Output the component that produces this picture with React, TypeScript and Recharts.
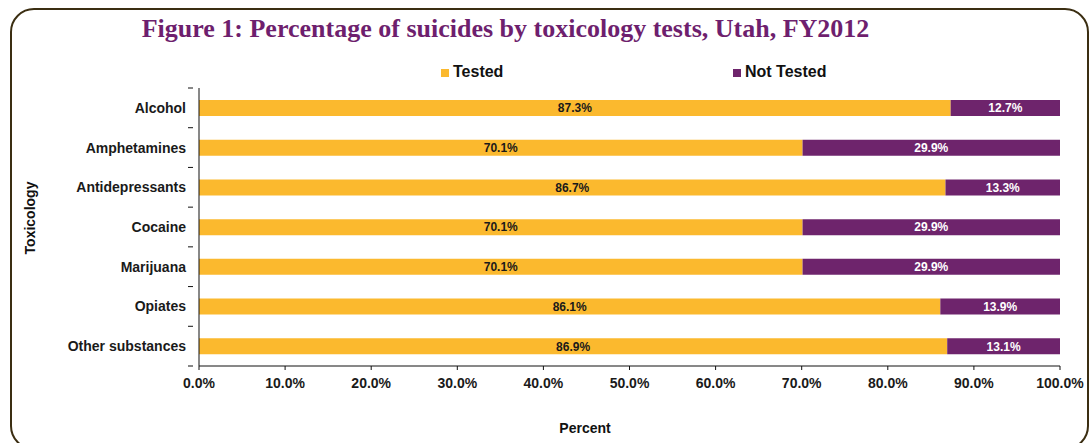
import React from 'react';
import { BarChart, Bar, XAxis, YAxis, LabelList } from 'recharts';

const categories = ['Alcohol', 'Amphetamines', 'Antidepressants', 'Cocaine', 'Marijuana', 'Opiates', 'Other substances'];
const tested = [87.3, 70.1, 86.7, 70.1, 70.1, 86.1, 86.9];
const notTested = [12.7, 29.9, 13.3, 29.9, 29.9, 13.9, 13.1];
const xTicks = [0, 10, 20, 30, 40, 50, 60, 70, 80, 90, 100];

const ORANGE = '#FBB92E';
const PURPLE = '#6E246C';
const FONT = 'Liberation Sans, Arial, sans-serif';

const data = categories.map((name, i) => ({ name, tested: tested[i], notTested: notTested[i] }));

const pct = (v: any) => `${Number(v).toFixed(1)}%`;

const PLOT_TOP = 88;
const PLOT_BOTTOM = 366;
const band = (PLOT_BOTTOM - PLOT_TOP) / categories.length;

// category label plus the little boundary tick marks Excel draws between categories
const CatTick = (props: any) => {
  const { x, y, payload, index } = props;
  const axisX = x + 7;
  return (
    <g>
      <line x1={axisX - 5} x2={axisX} y1={y - band / 2} y2={y - band / 2} stroke="#111" />
      {index === categories.length - 1 && (
        <line x1={axisX - 5} x2={axisX} y1={y + band / 2} y2={y + band / 2} stroke="#111" />
      )}
      <text x={x} y={y} dy="0.355em" textAnchor="end" fill="#1a1a1a" fontFamily={FONT} fontWeight="bold" fontSize={14}>
        {payload.value}
      </text>
    </g>
  );
};

export default function App() {
  return (
    <div style={{ position: 'absolute', left: 0, top: 0, width: 1091, height: 443, background: '#fff', overflow: 'hidden' }}>
      <div
        style={{
          position: 'absolute', left: 10, top: 8, width: 1079, height: 442,
          border: '2px solid #3b2e12', borderRadius: 24, boxSizing: 'border-box',
        }}
      />
      <div
        style={{
          position: 'absolute', left: 0, width: 1011, top: 14, textAlign: 'center',
          fontFamily: 'Liberation Serif, DejaVu Serif, serif', fontWeight: 'bold', fontSize: 26, color: '#6E1F6E',
        }}
      >
        Figure 1: Percentage of suicides by toxicology tests, Utah, FY2012
      </div>
      <div style={{ position: 'absolute', left: 441, top: 63, fontFamily: FONT, fontWeight: 'bold', fontSize: 16, color: '#111' }}>
        <span style={{ display: 'inline-block', width: 8, height: 8, background: ORANGE, marginRight: 4 }} />Tested
      </div>
      <div style={{ position: 'absolute', left: 733, top: 63, fontFamily: FONT, fontWeight: 'bold', fontSize: 16, color: '#111' }}>
        <span style={{ display: 'inline-block', width: 8, height: 8, background: PURPLE, marginRight: 4 }} />Not Tested
      </div>
      <div style={{ position: 'absolute', left: 0, width: 1170, top: 420, textAlign: 'center', fontFamily: FONT, fontWeight: 'bold', fontSize: 14, color: '#111' }}>
        Percent
      </div>
      <div
        style={{
          position: 'absolute', left: 30, top: 218, transform: 'translate(-50%, -50%) rotate(-90deg)',
          fontFamily: FONT, fontWeight: 'bold', fontSize: 14, color: '#111', whiteSpace: 'nowrap',
        }}
      >
        Toxicology
      </div>
      <div style={{ position: 'absolute', left: 0, top: 0 }}>
        <BarChart
          width={1091}
          height={443}
          data={data}
          layout="vertical"
          margin={{ top: PLOT_TOP, right: 31, bottom: 443 - PLOT_BOTTOM - 30, left: 9 }}
          barSize={16}
        >
          <XAxis
            type="number"
            domain={[0, 100]}
            ticks={xTicks}
            tickFormatter={pct}
            height={30}
            stroke="#111"
            tickSize={4}
            tickMargin={8}
            tick={{ fill: '#1a1a1a', fontFamily: FONT, fontWeight: 'bold', fontSize: 14 }}
            interval={0}
          />
          <YAxis
            type="category"
            dataKey="name"
            width={190}
            stroke="#111"
            tickLine={false}
            tickMargin={7}
            tick={<CatTick />}
            interval={0}
          />
          <Bar dataKey="tested" stackId="a" fill={ORANGE} isAnimationActive={false}>
            <LabelList dataKey="tested" position="center" formatter={pct} fill="#1a1a1a" style={{ fontFamily: FONT, fontWeight: 'bold', fontSize: 12 }} />
          </Bar>
          <Bar dataKey="notTested" stackId="a" fill={PURPLE} isAnimationActive={false}>
            <LabelList dataKey="notTested" position="center" formatter={pct} fill="#fff" style={{ fontFamily: FONT, fontWeight: 'bold', fontSize: 12 }} />
          </Bar>
        </BarChart>
      </div>
    </div>
  );
}
